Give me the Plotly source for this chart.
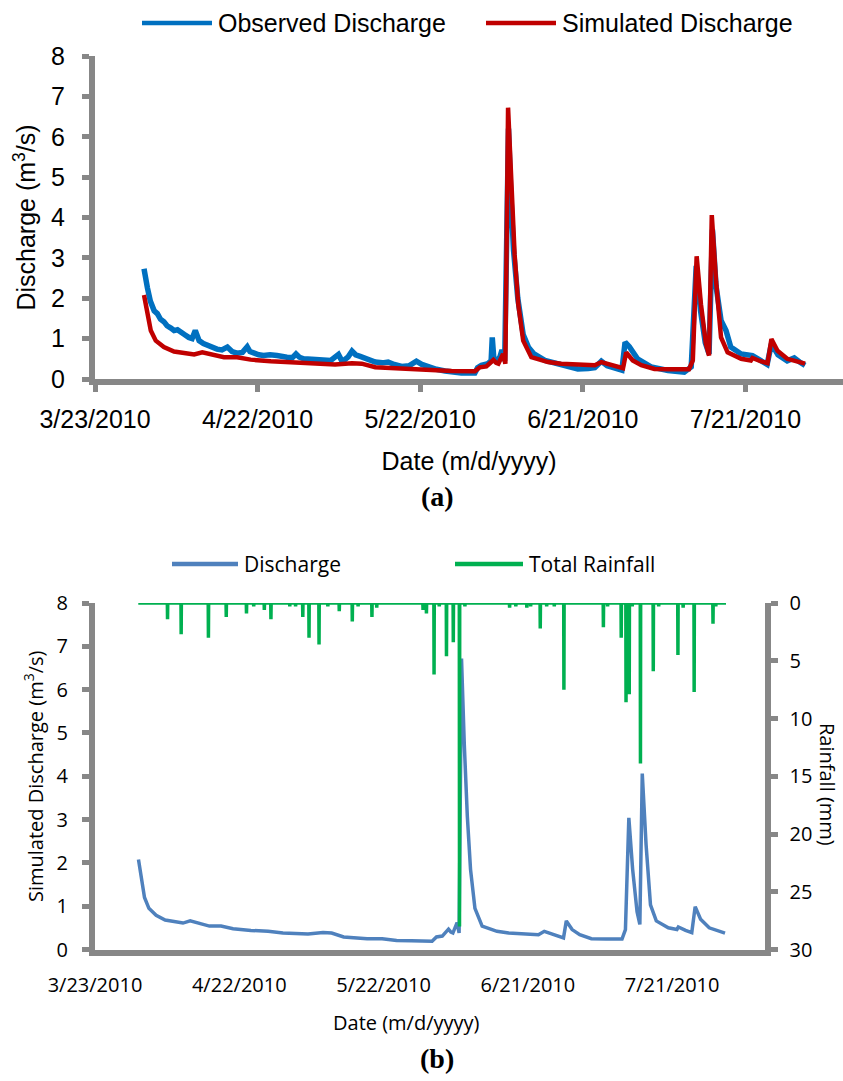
import pandas as pd
import plotly.graph_objects as go

# ---------------- data ----------------
obs_times = [
    "2010-04-01 01:00", "2010-04-01 08:00", "2010-04-01 16:00", "2010-04-02 05:00", "2010-04-02 22:00",
    "2010-04-03 12:00", "2010-04-04 02:00", "2010-04-04 17:00", "2010-04-05 07:00", "2010-04-06 00:00",
    "2010-04-06 14:00", "2010-04-07 05:00", "2010-04-07 19:00", "2010-04-08 12:00", "2010-04-09 07:00",
    "2010-04-09 22:00", "2010-04-10 12:00", "2010-04-11 05:00", "2010-04-12 00:00", "2010-04-12 17:00",
    "2010-04-13 14:00", "2010-04-14 12:00", "2010-04-15 10:00", "2010-04-16 10:00", "2010-04-17 07:00",
    "2010-04-18 05:00", "2010-04-19 05:00", "2010-04-20 02:00", "2010-04-20 14:00", "2010-04-21 07:00",
    "2010-04-22 05:00", "2010-04-23 02:00", "2010-04-24 07:00", "2010-04-25 14:00", "2010-04-26 12:00",
    "2010-04-27 10:00", "2010-04-28 10:00", "2010-04-29 02:00", "2010-04-29 17:00", "2010-04-30 12:00",
    "2010-05-02 00:00", "2010-05-03 22:00", "2010-05-05 12:00", "2010-05-06 22:00", "2010-05-07 10:00",
    "2010-05-07 22:00", "2010-05-08 17:00", "2010-05-09 10:00", "2010-05-10 02:00", "2010-05-10 22:00",
    "2010-05-12 07:00", "2010-05-13 17:00", "2010-05-15 00:00", "2010-05-16 02:00", "2010-05-17 05:00",
    "2010-05-18 14:00", "2010-05-20 00:00", "2010-05-21 07:00", "2010-05-22 07:00", "2010-05-23 12:00",
    "2010-05-25 00:00", "2010-05-26 14:00", "2010-05-28 02:00", "2010-05-29 14:00", "2010-06-01 02:00",
    "2010-06-01 14:00", "2010-06-02 07:00", "2010-06-03 12:00", "2010-06-04 02:00", "2010-06-04 07:00",
    "2010-06-04 14:00", "2010-06-05 05:00", "2010-06-05 17:00", "2010-06-06 02:00", "2010-06-06 14:00",
    "2010-06-07 07:00", "2010-06-07 17:00", "2010-06-08 05:00", "2010-06-09 00:00", "2010-06-10 00:00",
    "2010-06-11 00:00", "2010-06-12 00:00", "2010-06-14 00:00", "2010-06-16 00:00", "2010-06-18 00:00",
    "2010-06-20 02:00", "2010-06-22 00:00", "2010-06-23 05:00", "2010-06-24 10:00", "2010-06-25 12:00",
    "2010-06-28 05:00", "2010-06-28 19:00", "2010-06-29 14:00", "2010-07-01 02:00", "2010-07-03 14:00",
    "2010-07-06 17:00", "2010-07-09 17:00", "2010-07-11 00:00", "2010-07-11 22:00", "2010-07-12 17:00",
    "2010-07-13 14:00", "2010-07-14 07:00", "2010-07-14 22:00", "2010-07-15 14:00", "2010-07-16 12:00",
    "2010-07-17 10:00", "2010-07-18 07:00", "2010-07-20 05:00", "2010-07-22 07:00", "2010-07-23 19:00",
    "2010-07-25 00:00", "2010-07-25 19:00", "2010-07-27 00:00", "2010-07-28 17:00", "2010-07-30 00:00",
    "2010-07-31 00:00", "2010-08-01 00:00",
]
obs_vals = [
    2.73, 2.45, 2.26, 1.93, 1.69,
    1.62, 1.48, 1.42, 1.32, 1.26,
    1.20, 1.22, 1.15, 1.10, 1.03,
    1.00, 1.20, 0.95, 0.88, 0.83,
    0.78, 0.74, 0.72, 0.79, 0.68,
    0.64, 0.66, 0.80, 0.68, 0.64,
    0.60, 0.58, 0.60, 0.58, 0.55,
    0.54, 0.53, 0.62, 0.54, 0.50,
    0.49, 0.47, 0.46, 0.61, 0.48,
    0.46, 0.55, 0.69, 0.60, 0.56,
    0.48, 0.42, 0.40, 0.42, 0.36,
    0.31, 0.33, 0.44, 0.36, 0.29,
    0.24, 0.20, 0.17, 0.15, 0.15,
    0.28, 0.34, 0.38, 0.45, 1.03,
    0.50, 0.46, 0.55, 0.72, 0.45,
    6.20, 4.60, 3.20, 2.00, 1.10,
    0.78, 0.62, 0.46, 0.38, 0.32,
    0.25, 0.26, 0.28, 0.44, 0.33,
    0.22, 0.91, 0.80, 0.50, 0.30,
    0.21, 0.17, 0.30, 2.80, 1.70,
    0.90, 0.62, 3.70, 2.30, 1.45,
    1.20, 0.79, 0.62, 0.58, 0.44,
    0.36, 0.87, 0.60, 0.45, 0.52,
    0.42, 0.34,
]

sim_times = [
    "2010-04-01 01:00", "2010-04-01 08:00", "2010-04-01 16:00", "2010-04-02 07:00", "2010-04-03 05:00",
    "2010-04-04 17:00", "2010-04-06 14:00", "2010-04-08 10:00", "2010-04-10 07:00", "2010-04-11 19:00",
    "2010-04-13 14:00", "2010-04-15 19:00", "2010-04-18 05:00", "2010-04-20 17:00", "2010-04-24 10:00",
    "2010-04-28 00:00", "2010-05-01 02:00", "2010-05-03 12:00", "2010-05-06 07:00", "2010-05-09 10:00",
    "2010-05-11 05:00", "2010-05-13 17:00", "2010-05-18 14:00", "2010-05-21 17:00", "2010-05-24 17:00",
    "2010-05-27 19:00", "2010-06-01 02:00", "2010-06-02 00:00", "2010-06-03 05:00", "2010-06-04 12:00",
    "2010-06-05 00:00", "2010-06-05 10:00", "2010-06-06 07:00", "2010-06-06 17:00", "2010-06-07 05:00",
    "2010-06-07 19:00", "2010-06-08 10:00", "2010-06-09 02:00", "2010-06-10 00:00", "2010-06-11 12:00",
    "2010-06-14 14:00", "2010-06-17 00:00", "2010-06-23 05:00", "2010-06-24 10:00", "2010-06-26 05:00",
    "2010-06-28 10:00", "2010-06-29 00:00", "2010-06-30 05:00", "2010-07-01 19:00", "2010-07-04 05:00",
    "2010-07-07 07:00", "2010-07-10 14:00", "2010-07-11 07:00", "2010-07-12 00:00", "2010-07-12 19:00",
    "2010-07-13 17:00", "2010-07-14 07:00", "2010-07-14 19:00", "2010-07-15 14:00", "2010-07-16 12:00",
    "2010-07-17 17:00", "2010-07-20 05:00", "2010-07-22 00:00", "2010-07-22 07:00", "2010-07-23 19:00",
    "2010-07-25 02:00", "2010-07-25 19:00", "2010-07-26 22:00", "2010-07-28 17:00", "2010-07-30 00:00",
    "2010-08-01 00:00",
]
sim_vals = [
    2.08, 1.85, 1.60, 1.20, 0.95,
    0.79, 0.68, 0.64, 0.61, 0.66,
    0.61, 0.54, 0.54, 0.48, 0.44,
    0.42, 0.38, 0.37, 0.36, 0.39,
    0.38, 0.29, 0.25, 0.25, 0.21,
    0.20, 0.19, 0.29, 0.31, 0.47,
    0.40, 0.38, 0.62, 0.38, 6.72,
    4.72, 3.08, 1.85, 0.95, 0.54,
    0.42, 0.38, 0.34, 0.42, 0.35,
    0.27, 0.66, 0.46, 0.34, 0.25,
    0.24, 0.24, 0.46, 3.04, 1.85,
    0.87, 0.58, 4.06, 2.42, 1.03,
    0.66, 0.50, 0.46, 0.52, 0.44,
    0.39, 0.99, 0.70, 0.50, 0.46,
    0.38,
]

rain_times = [
    "2010-04-07 02:00", "2010-04-09 22:00", "2010-04-15 14:00", "2010-04-19 07:00", "2010-04-23 12:00",
    "2010-04-25 00:00", "2010-04-27 05:00", "2010-04-28 14:00", "2010-05-02 12:00", "2010-05-03 17:00",
    "2010-05-05 05:00", "2010-05-06 12:00", "2010-05-08 14:00", "2010-05-10 10:00", "2010-05-12 19:00",
    "2010-05-15 12:00", "2010-05-16 17:00", "2010-05-19 14:00", "2010-05-20 14:00", "2010-05-30 05:00",
    "2010-05-30 22:00", "2010-06-01 12:00", "2010-06-02 14:00", "2010-06-04 02:00", "2010-06-05 12:00",
    "2010-06-06 19:00", "2010-06-07 22:00", "2010-06-17 05:00", "2010-06-18 12:00", "2010-06-20 19:00",
    "2010-06-21 14:00", "2010-06-23 14:00", "2010-06-24 22:00", "2010-06-26 12:00", "2010-06-28 12:00",
    "2010-07-06 17:00", "2010-07-07 14:00", "2010-07-10 10:00", "2010-07-11 10:00", "2010-07-12 02:00",
    "2010-07-12 17:00", "2010-07-14 10:00", "2010-07-17 02:00", "2010-07-18 05:00", "2010-07-22 05:00",
    "2010-07-23 07:00", "2010-07-25 14:00", "2010-07-29 12:00", "2010-07-30 02:00",
]
rain_vals = [
    1.4, 2.7, 3.0, 1.2, 0.9,
    0.3, 0.6, 1.4, 0.3, 0.3,
    1.2, 3.0, 3.6, 0.3, 0.7,
    1.6, 0.3, 1.2, 0.4, 0.6,
    0.9, 6.2, 0.3, 4.6, 3.4,
    28.0, 0.3, 0.4, 0.3, 0.4,
    0.3, 2.2, 0.3, 0.3, 7.5,
    2.1, 0.3, 3.0, 8.6, 7.9,
    0.3, 13.9, 5.9, 0.3, 4.5,
    0.4, 7.7, 1.8, 0.3,
]
rain_start = "2010-04-01 00:00"
rain_end = "2010-08-01 05:00"

x_tick_start = "2010-03-23"
top_x_end = "2010-08-08 00:00"
bot_x_end = "2010-08-09 05:00"

# hourly rainfall record: zero before and after each rain hour
rx, ry = [pd.Timestamp(rain_start)], [0.0]
for t, v in zip(rain_times, rain_vals):
    tt = pd.Timestamp(t)
    rx += [tt - pd.Timedelta(hours=1), tt, tt + pd.Timedelta(hours=1)]
    ry += [0.0, v, 0.0]
rx.append(pd.Timestamp(rain_end))
ry.append(0.0)

# ---------------- styling ----------------
W, H = 843, 1081
GRAY = "#878787"
F_TOP = "Liberation Sans"
F_BOT = "Open Sans"

def px(x):
    return x / W

def py(y):
    return 1 - y / H

fig = go.Figure()

fig.add_trace(go.Scatter(x=pd.to_datetime(obs_times), y=obs_vals, mode="lines", name="Observed Discharge",
                         line=dict(color="#0070C0", width=5.5), xaxis="x", yaxis="y"))
fig.add_trace(go.Scatter(x=pd.to_datetime(sim_times), y=sim_vals, mode="lines", name="Simulated Discharge",
                         line=dict(color="#C00000", width=4.5), xaxis="x", yaxis="y"))
fig.add_trace(go.Scatter(x=pd.to_datetime(sim_times), y=sim_vals, mode="lines", name="Discharge",
                         line=dict(color="#4F81BD", width=3.5), xaxis="x2", yaxis="y2"))
fig.add_trace(go.Scatter(x=rx, y=ry, mode="lines", name="Total Rainfall",
                         line=dict(color="#00B050", width=3.5), xaxis="x2", yaxis="y3"))

axis_common = dict(showline=True, linewidth=6, linecolor=GRAY, showgrid=False, zeroline=False,
                   tickcolor=GRAY, tickwidth=5, automargin=False)

fig.update_layout(
    template="none",
    width=W, height=H,
    margin=dict(l=0, r=0, t=0, b=0),
    paper_bgcolor="white", plot_bgcolor="rgba(0,0,0,0)",
    showlegend=False,
    xaxis=dict(axis_common, domain=[px(95), 1.0], anchor="y", type="date",
               range=[x_tick_start, top_x_end], tick0=x_tick_start, dtick=30 * 86400000,
               tickformat="%-m/%-d/%Y", ticks="outside", ticklen=7,
               tickfont=dict(family=F_TOP, size=25, color="black"), ticklabelstandoff=6,
               title=dict(text="Date (m/d/yyyy)", font=dict(family=F_TOP, size=25, color="black"), standoff=22)),
    yaxis=dict(axis_common, domain=[py(379), py(56)], anchor="x", range=[0, 8], dtick=1,
               ticks="outside", ticklen=7,
               tickfont=dict(family=F_TOP, size=25, color="black"), ticklabelstandoff=12,
               title=dict(text="Discharge (m<sup>3</sup>/s)", font=dict(family=F_TOP, size=25, color="black"),
                          standoff=10)),
    xaxis2=dict(axis_common, domain=[px(95), px(764.5)], anchor="y2", type="date",
                range=[x_tick_start, bot_x_end], tick0=x_tick_start, dtick=30 * 86400000,
                tickformat="%-m/%-d/%Y", ticks="",
                tickfont=dict(family=F_BOT, size=20, color="black"), ticklabelstandoff=12),
    yaxis2=dict(axis_common, domain=[py(949.5), py(603)], anchor="x2", range=[0, 8], dtick=1,
                ticks="outside", ticklen=7,
                tickfont=dict(family=F_BOT, size=20, color="black"), ticklabelstandoff=10,
                title=dict(text="Simulated Discharge (m<sup>3</sup>/s)",
                           font=dict(family=F_BOT, size=20, color="black"), standoff=10)),
    yaxis3=dict(axis_common, overlaying="y2", side="right", anchor="x2", range=[30, 0], dtick=5,
                ticks="outside", ticklen=7,
                tickfont=dict(family=F_BOT, size=20, color="black"), ticklabelstandoff=8),
)

# manual legends (long line samples as in the original)
legend_items = [
    (142, 212, 23, "#0070C0", "Observed Discharge", F_TOP, 25),
    (486, 556, 23, "#C00000", "Simulated Discharge", F_TOP, 25),
    (172, 238, 564, "#4F81BD", "Discharge", F_BOT, 21),
    (455, 523, 564, "#00B050", "Total Rainfall", F_BOT, 21),
]
for x0, x1, yy, col, txt, fam, sz in legend_items:
    fig.add_shape(type="line", xref="paper", yref="paper", x0=px(x0), x1=px(x1), y0=py(yy), y1=py(yy),
                  line=dict(color=col, width=4.5))
    fig.add_annotation(xref="paper", yref="paper", x=px(x1 + 4), y=py(yy), text=txt, showarrow=False,
                       xanchor="left", yanchor="middle", font=dict(family=fam, size=sz, color="black"))

fig.add_annotation(xref="paper", yref="paper", x=px(406), y=py(1022), text="Date (m/d/yyyy)",
                   showarrow=False, xanchor="center", yanchor="middle",
                   font=dict(family=F_BOT, size=20, color="black"))
fig.add_annotation(xref="paper", yref="paper", x=px(828), y=py(784), text="Rainfall (mm)", textangle=90,
                   showarrow=False, xanchor="center", yanchor="middle",
                   font=dict(family=F_BOT, size=20, color="black"))
fig.add_annotation(xref="paper", yref="paper", x=px(437), y=py(497), text="<b>(a)</b>", showarrow=False,
                   xanchor="center", yanchor="middle", font=dict(family="Liberation Serif", size=28, color="black"))
fig.add_annotation(xref="paper", yref="paper", x=px(437), y=py(1058), text="<b>(b)</b>", showarrow=False,
                   xanchor="center", yanchor="middle", font=dict(family="Liberation Serif", size=28, color="black"))

fig.write_html("out.html", config={"displayModeBar": False},
               post_script="document.body.style.margin='0';document.body.style.overflow='hidden';")
